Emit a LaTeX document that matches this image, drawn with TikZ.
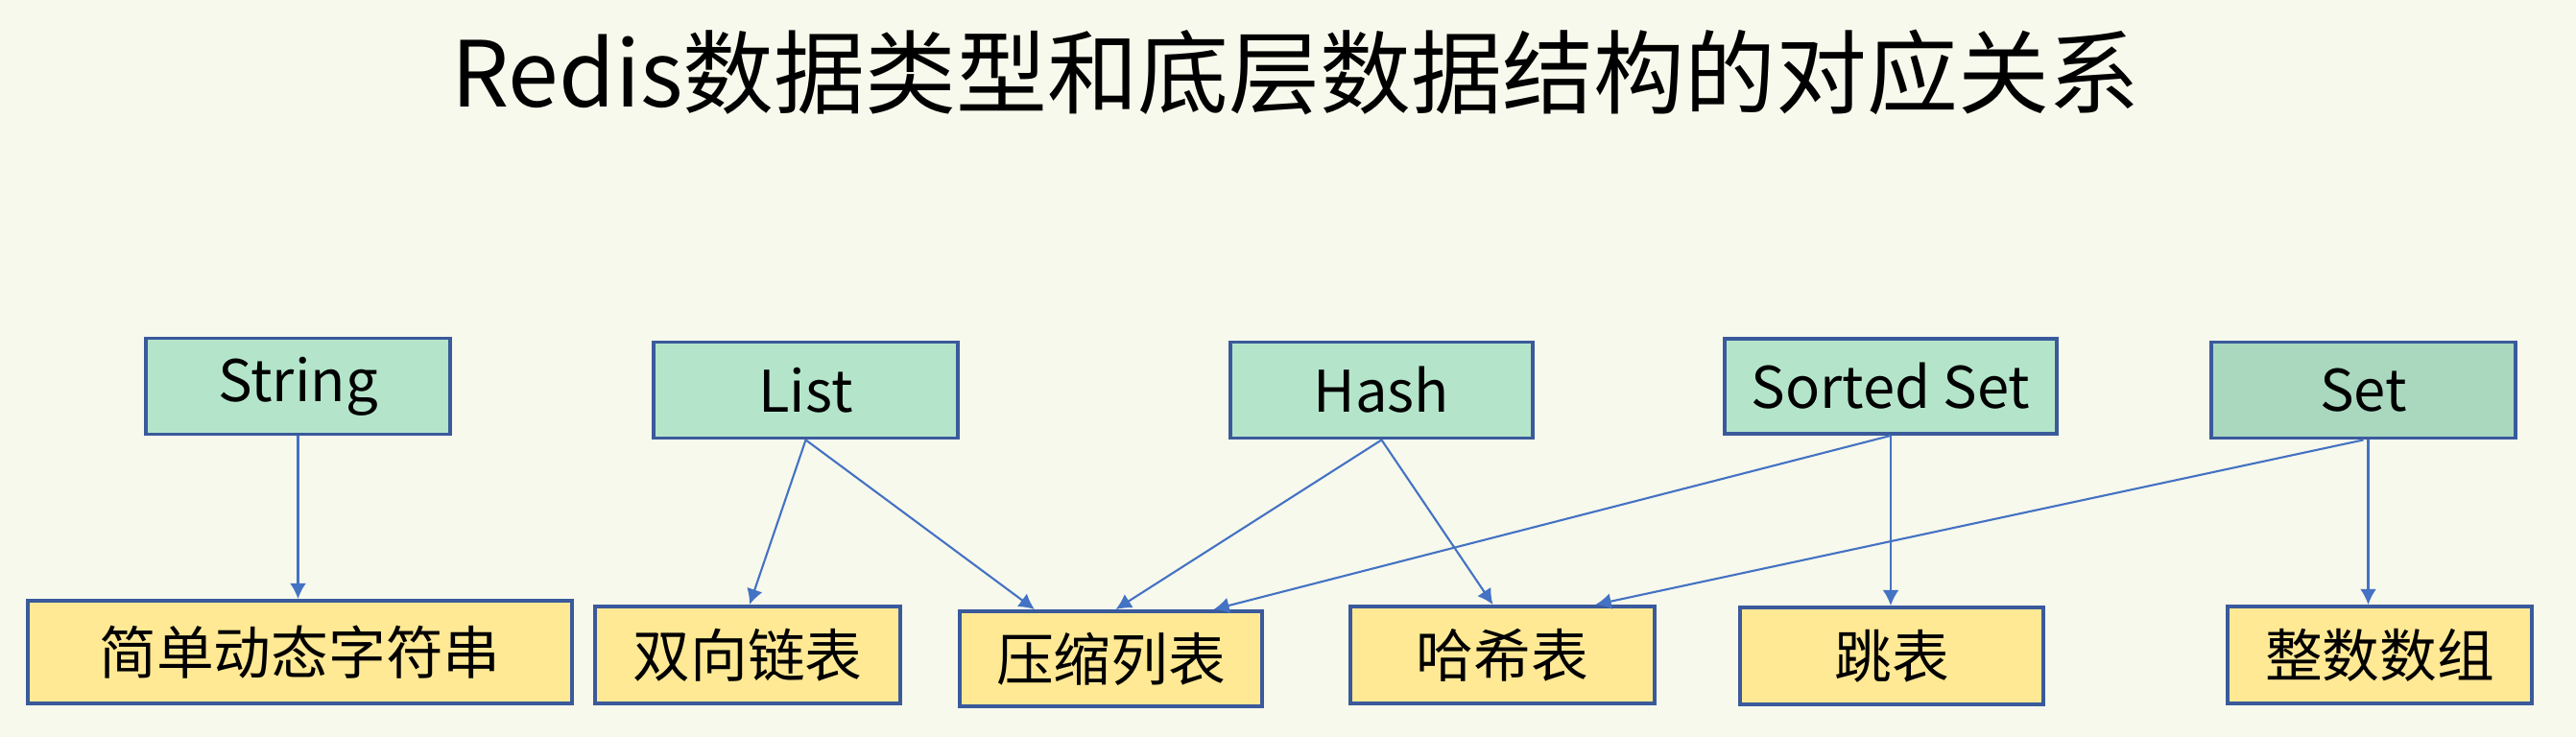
\documentclass[tikz,border=0pt]{standalone}
\usepackage{fontspec}
\setmainfont{Noto Sans CJK SC}
\usetikzlibrary{arrows.meta}
\definecolor{bgcol}{HTML}{F7F9EC}
\definecolor{boxline}{HTML}{3A5A9C}
\definecolor{typefill}{HTML}{B4E5CA}
\definecolor{setfill}{HTML}{A9D8BE}
\definecolor{implfill}{HTML}{FFE994}
\definecolor{arrowcol}{HTML}{4472C4}
\tikzset{
  typebox/.style={draw=boxline, line width=1.1pt, fill=typefill, minimum width=3.17cm, minimum height=1cm, inner sep=0pt, font=\fontsize{17}{20}\selectfont},
  implbox/.style={draw=boxline, line width=1.1pt, fill=implfill, minimum width=3.17cm, minimum height=1.01cm, inner sep=0pt, font=\fontsize{17}{20}\selectfont},
  maps/.style={draw=arrowcol, line width=0.6pt, -{Latex[length=4.6pt,width=4.8pt]}}
}
\begin{document}
\begin{tikzpicture}
\fill[bgcol] (0,0) rectangle (26.84,7.68);
\useasboundingbox (0,0) rectangle (26.84,7.68);
\node (title) at (13.5,6.92) {\fontsize{27}{32}\selectfont Redis数据类型和底层数据结构的对应关系};
% data types
\node[typebox] (string) at (3.105,3.655) {String};
\node[typebox] (list) at (8.395,3.615) {List};
\node[typebox, minimum width=3.15cm] (hash) at (14.395,3.615) {Hash};
\node[typebox, minimum width=3.46cm, minimum height=0.99cm] (sorted) at (19.70,3.655) {Sorted Set};
\node[typebox, fill=setfill] (set) at (24.625,3.615) {Set};
% data structures
\node[implbox, minimum width=5.67cm, minimum height=1.07cm] (sds) at (3.125,0.885) {简单动态字符串};
\node[implbox, minimum width=3.18cm] (linked) at (7.79,0.855) {双向链表};
\node[implbox, minimum width=3.15cm, minimum height=0.99cm] (ziplist) at (11.575,0.815) {压缩列表};
\node[implbox] (hashtable) at (15.655,0.855) {哈希表};
\node[implbox, minimum width=3.16cm] (skiplist) at (19.71,0.845) {跳表};
\node[implbox] (intset) at (24.795,0.855) {整数数组};
% mappings
\draw[maps] (string.south) -- (string.south |- sds.north);
\draw[maps] (list.south) -- ([xshift=0.02cm]linked.north);
\draw[maps] (list.south) -- ([xshift=-0.795cm]ziplist.north);
\draw[maps] (hash.south) -- ([xshift=0.05cm]ziplist.north);
\draw[maps] (hash.south) -- ([xshift=-0.1cm]hashtable.north);
\draw[maps] (sorted.south) -- ([xshift=1.07cm]ziplist.north);
\draw[maps] (sorted.south) -- (sorted.south |- skiplist.north);
\draw[maps] (set.south) -- ([xshift=0.97cm]hashtable.north);
\draw[maps] ([xshift=0.05cm]set.south) -- ([xshift=0.05cm]set.south |- intset.north);
\end{tikzpicture}
\end{document}
